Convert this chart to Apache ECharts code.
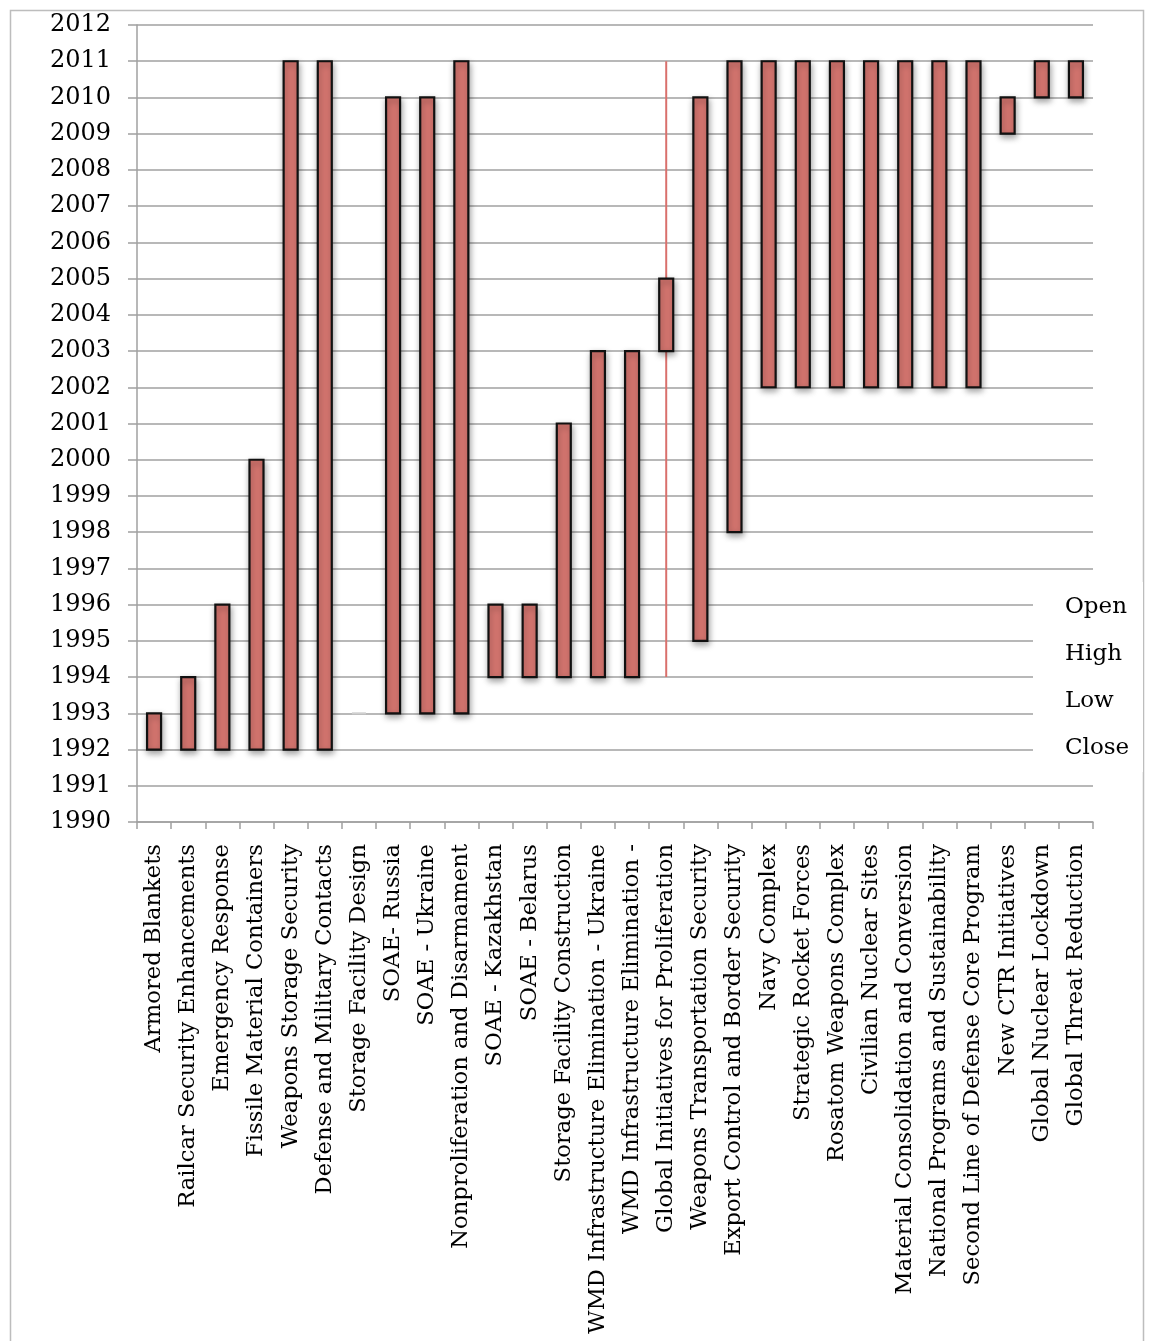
<!DOCTYPE html>
<html><head><meta charset="utf-8">
<script src="https://cdn.jsdelivr.net/npm/echarts@6/dist/echarts.min.js"></script>
<style>html,body{margin:0;padding:0;background:#fff}#c{width:1149px;height:1341px}</style>
</head><body><div id="c"></div>
<script>
const categories = [
  'Armored Blankets','Railcar Security Enhancements','Emergency Response','Fissile Material Containers',
  'Weapons Storage Security','Defense and Military Contacts','Storage Facility Design','SOAE- Russia',
  'SOAE - Ukraine','Nonproliferation and Disarmament','SOAE - Kazakhstan','SOAE - Belarus',
  'Storage Facility Construction','WMD Infrastructure Elimination - Ukraine','WMD Infrastructure Elimination -',
  'Global Initiatives for Proliferation','Weapons Transportation Security','Export Control and Border Security',
  'Navy Complex','Strategic Rocket Forces','Rosatom Weapons Complex','Civilian Nuclear Sites',
  'Material Consolidation and Conversion','National Programs and Sustainability','Second Line of Defense Core Program',
  'New CTR Initiatives','Global Nuclear Lockdown','Global Threat Reduction'
];
const openVals  = [1992,1992,1992,1992,1992,1992,1993,1993,1993,1993,1994,1994,1994,1994,1994,2003,1995,1998,2002,2002,2002,2002,2002,2002,2002,2009,2010,2010];
const highVals  = [1993,1994,1996,2000,2011,2011,1993,2010,2010,2011,1996,1996,2001,2003,2003,2011,2010,2011,2011,2011,2011,2011,2011,2011,2011,2010,2011,2011];
const lowVals   = [1992,1992,1992,1992,1992,1992,1993,1993,1993,1993,1994,1994,1994,1994,1994,1994,1995,1998,2002,2002,2002,2002,2002,2002,2002,2009,2010,2010];
const closeVals = [1993,1994,1996,2000,2011,2011,1993,2010,2010,2011,1996,1996,2001,2003,2003,2005,2010,2011,2011,2011,2011,2011,2011,2011,2011,2010,2011,2011];
const legendNames = ['Open','High','Low','Close'];
const yTickMin = 1990, yTickMax = 2012;

const FONT = 'DejaVu Serif';
const data = categories.map((c,i)=>[i, openVals[i], highVals[i], lowVals[i], closeVals[i]]);

const chart = echarts.init(document.getElementById('c'), null, {renderer:'canvas'});
chart.setOption({
  animation:false,
  backgroundColor:'#fff',
  grid:{left:137, top:25, right:56, bottom:519, containLabel:false},
  xAxis:{
    type:'category', data:categories, boundaryGap:true,
    axisLine:{lineStyle:{color:'#a0a0a0', width:1.5}},
    axisTick:{show:true, length:7, lineStyle:{color:'#a0a0a0', width:1.5}},
    axisLabel:{rotate:90, interval:0, fontFamily:FONT, fontSize:22.7, color:'#000', margin:22},
    splitLine:{show:false}
  },
  yAxis:{
    type:'value', min:yTickMin, max:yTickMax, interval:1,
    axisLine:{show:true, lineStyle:{color:'#a0a0a0', width:1.5}},
    axisTick:{show:true, length:9, lineStyle:{color:'#a0a0a0', width:1.5}},
    axisLabel:{fontFamily:FONT, fontSize:24, color:'#000', margin:26, formatter:v=>String(v)},
    splitLine:{show:true, lineStyle:{color:'#a0a0a0', width:1.5}}
  },
  series:[{
    type:'custom',
    data:data,
    encode:{x:0, y:[1,2,3,4]},
    renderItem:function(params, api){
      const x = api.value(0);
      const o = api.value(1), h = api.value(2), l = api.value(3), c = api.value(4);
      const pO = api.coord([x,o]), pC = api.coord([x,c]);
      const pH = api.coord([x,h]), pL = api.coord([x,l]);
      const w = api.size([1,0])[0]*0.41;
      const top = Math.min(pO[1],pC[1]), bot = Math.max(pO[1],pC[1]);
      const children = [];
      if (h > Math.max(o,c) || l < Math.min(o,c)) {
        children.push({type:'line', shape:{x1:pH[0], y1:pH[1], x2:pL[0], y2:pL[1]},
          style:{stroke:'#d9706c', lineWidth:2}});
      }
      if (o === c) {
        children.push({type:'line', shape:{x1:pO[0]-w/2, y1:pO[1], x2:pO[0]+w/2, y2:pO[1]},
          style:{stroke:'#cfcfcf', lineWidth:2}});
      } else {
        children.push({type:'rect', shape:{x:pO[0]-w/2, y:top, width:w, height:bot-top},
          style:{fill:'#d4756f', stroke:'#111', lineWidth:2.2,
            shadowBlur:6, shadowColor:'rgba(0,0,0,0.35)', shadowOffsetX:1, shadowOffsetY:3}});
      }
      return {type:'group', children:children};
    },
    z:5
  }],
  graphic:[
    {type:'rect', left:8, top:8, shape:{x:0,y:0,width:1133,height:1345}, style:{fill:null, stroke:'#bdbdbd', lineWidth:1.5}, z:1, silent:true},
    {type:'rect', shape:{x:1033, y:582, width:110, height:190}, style:{fill:'#fff'}, z:50, silent:true},
    ...legendNames.map((n,i)=>({type:'text', x:1065, y:607+i*47, z:60,
      style:{text:n, font:'23px "DejaVu Serif"', fill:'#000', textVerticalAlign:'middle', verticalAlign:'middle'}}))
  ]
});
</script></body></html>
